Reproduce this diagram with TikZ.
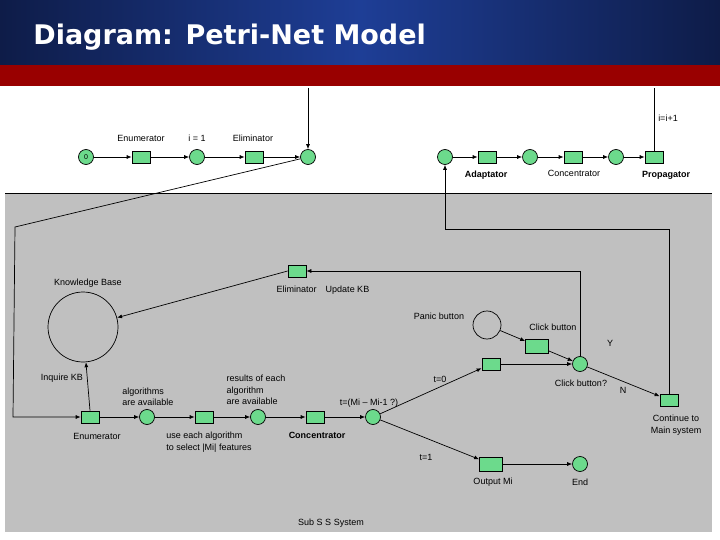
\documentclass[tikz,border=0pt]{standalone}
\usepackage{fontspec}
\setmainfont{Liberation Sans}
\newfontfamily\titlefont{DejaVu Sans}
\usetikzlibrary{arrows.meta, positioning}
\definecolor{pnGreen}{RGB}{108,218,140}
\definecolor{panelGray}{RGB}{192,192,192}
\definecolor{bannerRed}{RGB}{153,0,0}
\definecolor{bannerNavy}{RGB}{14,28,72}
\definecolor{bannerBlue}{RGB}{30,62,150}

\begin{document}
\begin{tikzpicture}[
    x=1pt, y=-1pt,
    >={Latex[length=5pt,width=4pt]},
    line width=0.7pt,
    font=\fontsize{9}{11.5}\selectfont,
    place/.style={circle, draw, fill=pnGreen, minimum size=15pt, inner sep=0pt},
    trans/.style={rectangle, draw, fill=pnGreen, minimum width=18pt, minimum height=12pt, inner sep=0pt},
    lbl/.style={align=center, inner sep=1pt},
    lbll/.style={align=left, inner sep=1pt},
    boldlbl/.style={lbl, font=\fontsize{9}{11.5}\selectfont\bfseries}
  ]
    \useasboundingbox (0,0) rectangle (720,540);
    % banner
    \shade[left color=bannerNavy, right color=bannerNavy, middle color=bannerBlue] (0,0) rectangle (720,65);
    \fill[bannerRed] (0,65) rectangle (720,86);
    \node[anchor=base west, text=white, inner sep=0pt, font=\titlefont\bfseries\fontsize{27}{30}\selectfont] (title) at (33,45) {Diagram: Petri-Net Model};
    % panel
    \fill[panelGray] (5,193) rectangle (712,532);
    \draw (5,193) -- (712,193);

    % top row
    \node[place] (start) at (86,157) {\fontsize{7}{7}\selectfont 0};
    \node[trans] (enum0) at (141,157) {};
    \node[place] (ione) at (197,157) {};
    \node[trans] (elim0) at (254,157) {};
    \node[place] (pin) at (308,157) {};
    \node[place] (pada) at (445,157) {};
    \node[trans] (ada) at (487,157) {};
    \node[place] (pcon) at (530,157) {};
    \node[trans] (con0) at (573,157) {};
    \node[place] (pprop) at (616,157) {};
    \node[trans] (prop) at (654,157) {};
    \coordinate (topin) at (308,88);
    \coordinate (topout) at (654,88);

    \node[lbl] (enum0l) at (141,138) {Enumerator};
    \node[lbl] (ionel) at (197,138) {i = 1};
    \node[lbl] (elim0l) at (253,138) {Eliminator};
    \node[boldlbl] (adal) at (486,175) {Adaptator};
    \node[lbl] (con0l) at (574,173) {Concentrator};
    \node[boldlbl] (propl) at (666,175) {Propagator};
    \node[lbl] (incl) at (668,118) {i=i+1};

    % bottom row
    \node[trans] (enum) at (90,417) {};
    \node[place] (palg) at (147,417) {};
    \node[trans] (sel) at (204,417) {};
    \node[place] (pres) at (258,417) {};
    \node[trans] (con) at (315,417) {};
    \node[place] (pt) at (373,417) {};
    \node[circle, draw, minimum size=70pt] (kb) at (83,327) {};
    \node[trans] (elimkb) at (297,271) {};
    \node[circle, draw, minimum size=28pt] (panic) at (487,325) {};
    \node[trans, minimum width=23pt, minimum height=14pt] (click) at (537,346) {};
    \node[trans] (tzero) at (491,364) {};
    \node[place] (pclick) at (580,364) {};
    \node[trans] (cont) at (669,400) {};
    \node[trans, minimum width=23pt, minimum height=14pt] (out) at (491,464) {};
    \node[place] (pend) at (580,464) {};
    \coordinate (bendA) at (15,227);
    \coordinate (bendB) at (13,417);
    \coordinate (ret) at (445,229);

    \node[lbl] (kbl) at (88,283) {Knowledge Base};
    \node[lbl] (inql) at (62,378) {Inquire KB};
    \node[lbll] (palgl) at (148,397) {algorithms\\are available};
    \node[lbl] (enuml) at (97,436) {Enumerator};
    \node[lbll] (sell) at (209,442) {use each algorithm\\to select |Mi| features};
    \node[lbll] (presl) at (256,390) {results of each\\algorithm\\are available};
    \node[boldlbl] (conl) at (317,435) {Concentrator};
    \node[lbl] (ptl) at (369,403) {t=(Mi -- Mi-1 ?)};
    \node[lbl] (elimkbl) at (323,290) {Eliminator\quad Update KB};
    \node[lbl] (panicl) at (439,316) {Panic button};
    \node[lbl] (clickl) at (553,327) {Click button};
    \node[lbl] (pclickl) at (581,383) {Click button?};
    \node[lbl] (yl) at (610,343) {Y};
    \node[lbl] (nl) at (623,390) {N};
    \node[lbl] (tzl) at (440,379) {t=0};
    \node[lbl] (tol) at (426,457) {t=1};
    \node[lbl] (contl) at (676,425) {Continue to\\Main system};
    \node[lbl] (outl) at (493,482) {Output Mi};
    \node[lbl] (pendl) at (580,482) {End};
    \node[lbl] (subl) at (331,523) {Sub S S System};

    \begin{scope}[->]
      \draw (start) -- (enum0);
      \draw (enum0) -- (ione);
      \draw (ione) -- (elim0);
      \draw (elim0) -- (pin);
      \draw (topin) -- (pin);
      \draw (pada) -- (ada);
      \draw (ada) -- (pcon);
      \draw (pcon) -- (con0);
      \draw (con0) -- (pprop);
      \draw (pprop) -- (prop);
      \draw (pin) -- (bendA) -- (bendB) -- (enum);
      \draw (enum) -- (palg);
      \draw (palg) -- (sel);
      \draw (sel) -- (pres);
      \draw (pres) -- (con);
      \draw (con) -- (pt);
      \draw (enum.north) -- (kb);
      \draw (pt) -- (tzero);
      \draw (pt) -- (out);
      \draw (tzero) -- (pclick);
      \draw (panic) -- (click);
      \draw (click) -- (pclick);
      \draw (pclick) -- (cont);
      \draw (out) -- (pend);
      \draw (pclick.north) |- (elimkb.east);
      \draw (elimkb.west) -- (kb);
      \draw (cont.north) |- (ret) -- (pada);
    \end{scope}
    \draw (prop) -- (topout);
  \end{tikzpicture}
\end{document}
